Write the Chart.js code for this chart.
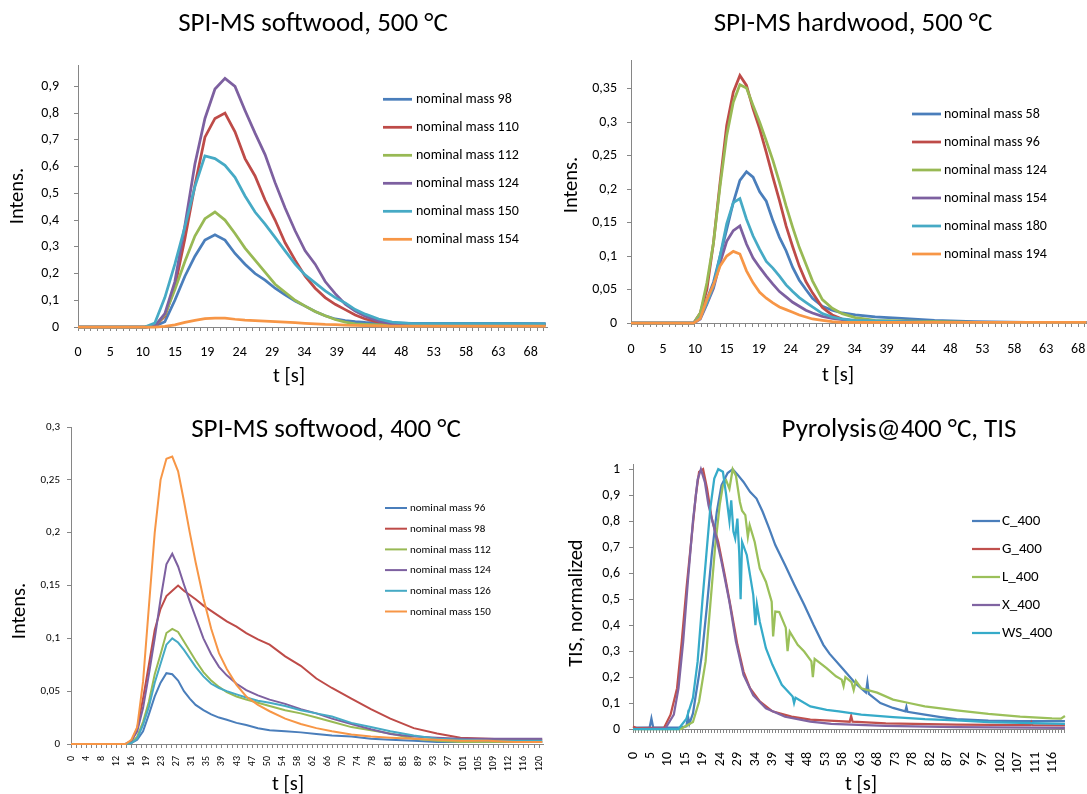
<!DOCTYPE html>
<html>
<head>
<meta charset="utf-8">
<title>SPI-MS pyrolysis profiles</title>
<script src="https://cdn.jsdelivr.net/npm/chart.js@4.4.1/dist/chart.umd.min.js"></script>
<style>
  html, body { margin: 0; padding: 0; background: #fff; }
  body { width: 1087px; height: 794px; overflow: hidden; position: relative; }
  canvas { position: absolute; left: 0; top: 0; }
</style>
</head>
<body>
<canvas id="sw500" width="1100" height="794"></canvas>
<canvas id="hw500" width="1100" height="794"></canvas>
<canvas id="sw400" width="1100" height="794"></canvas>
<canvas id="tis400" width="1100" height="794"></canvas>
<script>
const FONT = 'Carlito, Lato, sans-serif';
Chart.defaults.font.family = FONT;
Chart.defaults.color = '#000';
const AXIS = '#868686';

// ---------- SPI-MS softwood, 500 °C ----------
const sw500Time = [0,5,10,11.5,13,14.5,16,17.5,19,20.5,22,23.5,25,26.5,28,29.5,31,32.5,34,35.5,37,38.5,40,41.5,43,45,47,50,55,60,65,70];
const sw500Names = ['nominal mass 98','nominal mass 110','nominal mass 112','nominal mass 124','nominal mass 150','nominal mass 154'];
const sw500_98  = [0,0,0,0.003,0.02,0.1,0.19,0.265,0.325,0.345,0.325,0.275,0.235,0.2,0.175,0.145,0.12,0.097,0.078,0.058,0.042,0.03,0.024,0.02,0.017,0.015,0.015,0.014,0.014,0.014,0.014,0.013];
const sw500_110 = [0,0,0,0.003,0.04,0.15,0.33,0.53,0.71,0.78,0.8,0.73,0.63,0.565,0.475,0.4,0.315,0.25,0.19,0.145,0.11,0.085,0.065,0.045,0.03,0.018,0.01,0.008,0.008,0.008,0.008,0.008];
const sw500_112 = [0,0,0,0.005,0.045,0.14,0.245,0.34,0.405,0.43,0.4,0.35,0.295,0.25,0.205,0.16,0.13,0.1,0.078,0.058,0.042,0.028,0.018,0.012,0.01,0.008,0.008,0.008,0.008,0.008,0.008,0.008];
const sw500_124 = [0,0,0,0.003,0.05,0.17,0.38,0.61,0.78,0.89,0.93,0.9,0.81,0.725,0.645,0.54,0.445,0.36,0.285,0.235,0.17,0.125,0.085,0.06,0.04,0.022,0.012,0.01,0.01,0.01,0.01,0.01];
const sw500_150 = [0,0,0,0.015,0.11,0.235,0.375,0.525,0.64,0.63,0.605,0.56,0.49,0.43,0.385,0.335,0.285,0.235,0.195,0.165,0.135,0.11,0.09,0.065,0.048,0.03,0.018,0.013,0.013,0.013,0.013,0.012];
const sw500_154 = [0,0,0,0,0.002,0.008,0.017,0.025,0.031,0.033,0.033,0.029,0.026,0.024,0.022,0.02,0.018,0.016,0.014,0.012,0.01,0.009,0.007,0.006,0.005,0.004,0.003,0.003,0.003,0.003,0.003,0.003];
const sw500XLabels = ['0','5','10','15','19','24','29','34','39','44','48','53','58','63','68'];
const sw500YTicks = [0,0.1,0.2,0.3,0.4,0.5,0.6,0.7,0.8,0.9];

// ---------- SPI-MS hardwood, 500 °C ----------
const hw500Time = [0,5,9.5,10.5,11.5,12.5,13.5,14.5,15.5,16.5,17.5,18.5,19.5,20.5,21.5,22.5,23.5,24.5,25.5,26.5,27.5,29,30.5,32,34,37,41,46,52,60,69];
const hw500Names = ['nominal mass 58','nominal mass 96','nominal mass 124','nominal mass 154','nominal mass 180','nominal mass 194'];
const hw500_58  = [0,0,0,0.008,0.035,0.061,0.1,0.14,0.18,0.213,0.226,0.218,0.196,0.182,0.153,0.128,0.108,0.083,0.064,0.05,0.037,0.025,0.019,0.015,0.012,0.009,0.007,0.004,0.002,0.001,0.001];
const hw500_96  = [0,0,0,0.015,0.05,0.12,0.21,0.295,0.345,0.37,0.355,0.32,0.29,0.255,0.218,0.183,0.145,0.114,0.085,0.062,0.045,0.023,0.012,0.006,0.003,0.002,0.002,0.001,0.001,0.001,0.001];
const hw500_124 = [0,0,0,0.015,0.06,0.12,0.205,0.28,0.33,0.356,0.351,0.325,0.3,0.272,0.243,0.21,0.175,0.143,0.113,0.088,0.063,0.035,0.022,0.014,0.008,0.004,0.003,0.002,0.001,0.001,0.001];
const hw500_154 = [0,0,0,0.006,0.028,0.052,0.09,0.122,0.138,0.145,0.118,0.097,0.083,0.07,0.058,0.047,0.039,0.031,0.025,0.019,0.015,0.01,0.007,0.005,0.003,0.002,0.002,0.001,0.001,0.001,0.001];
const hw500_180 = [0,0,0,0.008,0.03,0.055,0.1,0.148,0.18,0.186,0.155,0.13,0.11,0.092,0.082,0.07,0.057,0.047,0.038,0.031,0.024,0.014,0.009,0.006,0.004,0.003,0.002,0.001,0.001,0.001,0.001];
const hw500_194 = [0,0,0,0.007,0.035,0.057,0.085,0.1,0.107,0.103,0.078,0.06,0.046,0.037,0.03,0.024,0.02,0.016,0.012,0.009,0.006,0.004,0.002,0.001,0.001,0.001,0.001,0.001,0.001,0.001,0.001];
const hw500XLabels = ['0','5','10','15','19','24','29','34','39','44','48','53','58','63','68'];
const hw500YTicks = [0,0.05,0.1,0.15,0.2,0.25,0.3,0.35];

// ---------- SPI-MS softwood, 400 °C ----------
const sw400Time = [0,10,14,15.5,17,18.5,20,21.5,23,24.5,26,27.5,29,30.5,32,34,36,38,40,42.5,45,48,51,55,59,63,67,72,77,82,88,94,100,107,114,121];
const sw400Names = ['nominal mass 96','nominal mass 98','nominal mass 112','nominal mass 124','nominal mass 126','nominal mass 150'];
const sw400_96  = [0,0,0,0.001,0.004,0.012,0.028,0.045,0.058,0.067,0.066,0.06,0.05,0.043,0.037,0.032,0.028,0.025,0.023,0.02,0.018,0.015,0.013,0.012,0.011,0.0095,0.008,0.007,0.005,0.004,0.003,0.002,0.002,0.002,0.002,0.002];
const sw400_98  = [0,0,0,0.002,0.015,0.043,0.075,0.108,0.128,0.14,0.145,0.15,0.145,0.141,0.137,0.131,0.126,0.121,0.116,0.111,0.105,0.099,0.094,0.083,0.074,0.062,0.053,0.043,0.033,0.024,0.015,0.01,0.006,0.005,0.004,0.004];
const sw400_112 = [0,0,0,0.001,0.007,0.021,0.04,0.066,0.085,0.105,0.109,0.106,0.097,0.088,0.079,0.068,0.06,0.054,0.049,0.045,0.042,0.039,0.036,0.032,0.029,0.025,0.021,0.016,0.013,0.01,0.005,0.003,0.002,0.002,0.002,0.002];
const sw400_124 = [0,0,0,0.003,0.012,0.034,0.066,0.1,0.137,0.17,0.18,0.168,0.151,0.135,0.12,0.1,0.085,0.073,0.065,0.057,0.051,0.046,0.042,0.038,0.033,0.029,0.024,0.019,0.014,0.0095,0.007,0.006,0.005,0.005,0.005,0.005];
const sw400_126 = [0,0,0,0.001,0.005,0.018,0.035,0.058,0.076,0.094,0.1,0.096,0.089,0.081,0.073,0.064,0.057,0.053,0.05,0.047,0.044,0.041,0.039,0.036,0.032,0.029,0.026,0.02,0.016,0.012,0.008,0.005,0.004,0.003,0.003,0.003];
const sw400_150 = [0,0,0,0.004,0.016,0.059,0.13,0.2,0.25,0.27,0.272,0.258,0.23,0.2,0.172,0.138,0.109,0.086,0.071,0.056,0.045,0.037,0.031,0.024,0.019,0.015,0.012,0.009,0.007,0.006,0.005,0.004,0.003,0.003,0.002,0.002];
const sw400XLabels = ['0','4','8','12','16','19','23','27','31','35','39','43','47','50','54','58','62','66','70','74','78','81','85','89','93','97','101','105','109','112','116','120'];
const sw400YTicks = [0,0.05,0.1,0.15,0.2,0.25,0.3];

// ---------- Pyrolysis@400 °C, TIS ----------
const tisNames = ['C_400','G_400','L_400','X_400','WS_400'];
const tisC_t = [0,4.6,5.1,5.6,13,14.8,15.2,15.6,16.6,17.4,18.3,19.2,20.5,21.8,23.2,24.5,26.2,27.6,28.9,30.6,32.4,34.2,35.9,37.7,39.4,42.1,44.7,47.4,50,52.7,54.4,57.9,61.5,64.5,64.9,65.3,68.5,72,75.4,75.7,76,80.8,85.2,89.6,98.4,107.2,119.6];
const tisC_v = [0.005,0.005,0.04,0.005,0.005,0.01,0.05,0.02,0.06,0.132,0.21,0.3,0.478,0.67,0.836,0.938,0.985,1,0.98,0.951,0.913,0.887,0.836,0.772,0.708,0.631,0.554,0.478,0.4,0.324,0.29,0.235,0.177,0.14,0.18,0.135,0.1,0.081,0.068,0.085,0.066,0.055,0.046,0.038,0.032,0.03,0.03];
const tisG_t = [0,1,8.6,10.4,12.2,13.5,14.8,16.1,17.4,18.3,19.4,20.5,21.8,23.6,25.4,27.1,28.9,30.6,32.4,35.1,38.6,43.9,49.1,57,60,60.4,60.8,70,89.6,110,110.3,110.6,119.6];
const tisG_v = [0.01,0.003,0.005,0.055,0.157,0.337,0.54,0.72,0.9,0.99,1,0.926,0.81,0.72,0.593,0.465,0.324,0.221,0.157,0.106,0.068,0.048,0.036,0.03,0.028,0.05,0.028,0.022,0.0165,0.015,0.025,0.015,0.014];
const tisL_t = [0,13.2,16.6,18.3,20.1,21.4,22.7,24,24.9,25.8,26.7,27.6,28.5,29.6,30.2,31.1,31.8,32.3,33.7,35.1,36.8,38.4,38.8,39.4,40.5,42.3,42.8,43.4,45.6,47.4,49.4,49.8,50.3,53.6,56.2,57.8,58.3,58.8,60.5,61.1,61.7,63.2,67.6,72,76.4,80.8,89.6,98.4,107.2,116,118.5,119.6];
const tisL_v = [0,0,0.027,0.106,0.26,0.478,0.695,0.862,0.938,0.957,0.925,1,0.975,0.874,0.84,0.823,0.74,0.785,0.72,0.618,0.567,0.49,0.356,0.452,0.45,0.39,0.3,0.375,0.324,0.298,0.26,0.2,0.27,0.234,0.203,0.19,0.165,0.2,0.18,0.15,0.185,0.157,0.14,0.113,0.1,0.087,0.072,0.058,0.048,0.041,0.04,0.05];
const tisX_t = [0,9,11.3,12.6,13.9,15.2,16.6,17.9,18.8,19.9,20.9,22.7,24.5,26.7,28.5,30.6,33.3,36.8,42.1,49.1,54.9,70,89.6,119.6];
const tisX_v = [0,0.003,0.055,0.157,0.337,0.57,0.8,0.96,1,0.95,0.862,0.76,0.645,0.49,0.337,0.208,0.13,0.08,0.047,0.028,0.02,0.012,0.007,0.004];
const tisWS_t = [0,12.6,14.8,16.6,17.9,19.2,20.3,21.4,22.5,23.6,24.9,25.8,26.7,27.2,27.8,28.3,28.9,29.4,29.8,30.2,31.5,33.3,33.9,34.3,35.1,36.8,38.6,41.2,44.2,44.6,45,49.1,53.6,57,63.2,72,80.8,89.6,98.4,119.6];
const tisWS_v = [0,0,0.04,0.12,0.26,0.49,0.67,0.849,0.964,1,0.99,0.9,0.8,0.88,0.76,0.734,0.81,0.68,0.5,0.72,0.67,0.516,0.4,0.48,0.413,0.311,0.247,0.17,0.125,0.1,0.12,0.087,0.074,0.068,0.055,0.046,0.038,0.033,0.026,0.02];
const tisXLabels = ['0','5','10','15','19','24','29','34','39','44','48','53','58','63','68','73','78','82','87','92','97','102','107','111','116'];
const tisYTicks = [0,0.1,0.2,0.3,0.4,0.5,0.6,0.7,0.8,0.9,1];

const excelColors = ['#4A7EBB','#BE4B48','#98B954','#7D60A0','#46AAC5','#F79646'];
const tisColors = ['#4A7EBB','#C0504D','#9BC05A','#8064A2','#36ABC9'];

// draws titles, axis titles and the in-plot legend at fixed page positions
const deco = {
  id: 'deco',
  afterDraw(chart, args, o) {
    const ctx = chart.ctx;
    ctx.save();
    ctx.fillStyle = '#000';
    ctx.textBaseline = 'middle';
    ctx.textAlign = 'center';
    ctx.font = `${o.titleSize}px ${FONT}`;
    ctx.fillText(o.title[0], o.title[1], o.title[2]);
    ctx.font = `${o.axisSize}px ${FONT}`;
    ctx.fillText(o.xTitle[0], o.xTitle[1], o.xTitle[2]);
    ctx.save();
    ctx.translate(o.yTitle[1], o.yTitle[2]);
    ctx.rotate(-Math.PI / 2);
    ctx.fillText(o.yTitle[0], 0, 0);
    ctx.restore();
    // legend
    ctx.textAlign = 'left';
    ctx.font = `${o.legSize}px ${FONT}`;
    chart.data.datasets.forEach((ds, i) => {
      const y = o.leg.y + i * o.leg.dy;
      ctx.strokeStyle = ds.borderColor;
      ctx.lineWidth = ds.borderWidth;
      ctx.beginPath();
      ctx.moveTo(o.leg.x, y);
      ctx.lineTo(o.leg.x + o.leg.len, y);
      ctx.stroke();
      ctx.fillText(ds.label, o.leg.tx, y + 0.5);
    });
    ctx.restore();
  }
};

const CANVAS_W = 1100;

function panel(id, p) {
  const datasets = p.series.map((s, i) => ({
    label: p.names[i],
    data: s[0].map((t, k) => ({ x: t, y: s[1][k] })),
    borderColor: p.colors[i],
    borderWidth: p.lw,
    pointRadius: 0,
    pointHoverRadius: 0,
    tension: 0,
    fill: false,
    clip: 6,
    order: -i
  }));
  const tickStep = p.labelStep / p.minor;
  new Chart(document.getElementById(id), {
    type: 'line',
    data: { datasets },
    plugins: [deco],
    options: {
      responsive: false,
      animation: false,
      events: [],
      layout: { padding: { left: 0, top: p.area.t, right: CANVAS_W - p.area.r, bottom: 0 } },
      plugins: {
        legend: { display: false },
        title: { display: false },
        tooltip: { enabled: false },
        deco: p.deco
      },
      scales: {
        x: {
          type: 'linear',
          min: 0,
          max: p.xMax,
          afterBuildTicks: s => {
            const out = [];
            for (let i = 0; i * tickStep <= p.xMax + 1e-9; i++) out.push({ value: i * tickStep });
            s.ticks = out;
          },
          afterFit: s => { s.height = 794 - p.area.b; },
          ticks: {
            autoSkip: false,
            maxRotation: p.rot,
            minRotation: p.rot,
            padding: p.xPad,
            font: { size: p.xTickSize },
            color: '#000',
            callback: (v, i) => (i % p.minor === 0 ? (p.xLabels[i / p.minor] ?? '') : '')
          },
          grid: { drawOnChartArea: false, drawTicks: true, tickLength: 4, color: AXIS, lineWidth: 1 },
          border: { color: AXIS, width: 1 }
        },
        y: {
          type: 'linear',
          min: 0,
          max: p.yMax,
          afterBuildTicks: s => { s.ticks = p.yTicks.map(v => ({ value: v })); },
          afterFit: s => { s.width = p.area.l; },
          ticks: {
            padding: p.yPad,
            font: { size: p.yTickSize },
            color: '#000',
            callback: v => String(v).replace('.', ',')
          },
          grid: { drawOnChartArea: false, drawTicks: true, tickLength: 4, color: AXIS, lineWidth: 1 },
          border: { color: AXIS, width: 1 }
        }
      }
    }
  });
}

panel('sw500', {
  series: [sw500_98, sw500_110, sw500_112, sw500_124, sw500_150, sw500_154].map(v => [sw500Time, v]),
  names: sw500Names, colors: excelColors, lw: 2.75,
  area: { l: 78, r: 547, t: 65, b: 327 },
  xMax: 70.2, yMax: 0.98, labelStep: 4.84, minor: 5, rot: 0,
  xLabels: sw500XLabels, yTicks: sw500YTicks,
  xPad: 13, yPad: 15, xTickSize: 14, yTickSize: 14,
  deco: {
    title: ['SPI-MS softwood, 500 °C', 313, 24], titleSize: 27,
    xTitle: ['t [s]', 289, 377], yTitle: ['Intens.', 18, 196], axisSize: 20.5,
    leg: { x: 383, len: 29, tx: 416, y: 99.3, dy: 28 }, legSize: 14
  }
});

panel('hw500', {
  series: [hw500_58, hw500_96, hw500_124, hw500_154, hw500_180, hw500_194].map(v => [hw500Time, v]),
  names: hw500Names, colors: excelColors, lw: 2.75,
  area: { l: 631, r: 1087, t: 60, b: 323 },
  xMax: 69.1, yMax: 0.393, labelStep: 4.84, minor: 5, rot: 0,
  xLabels: hw500XLabels, yTicks: hw500YTicks,
  xPad: 14, yPad: 10, xTickSize: 14, yTickSize: 14,
  deco: {
    title: ['SPI-MS hardwood, 500 °C', 853, 24], titleSize: 27,
    xTitle: ['t [s]', 838, 376], yTitle: ['Intens.', 572, 185], axisSize: 20.5,
    leg: { x: 912, len: 29, tx: 944, y: 114, dy: 28 }, legSize: 14
  }
});

panel('sw400', {
  series: [sw400_96, sw400_98, sw400_112, sw400_124, sw400_126, sw400_150].map(v => [sw400Time, v]),
  names: sw400Names, colors: excelColors, lw: 2,
  area: { l: 71, r: 543, t: 427, b: 744 },
  xMax: 121.2, yMax: 0.3, labelStep: 3.877, minor: 3, rot: 90,
  xLabels: sw400XLabels, yTicks: sw400YTicks,
  xPad: 8, yPad: 7, xTickSize: 10, yTickSize: 11,
  deco: {
    title: ['SPI-MS softwood, 400 °C', 326, 430], titleSize: 27,
    xTitle: ['t [s]', 288, 785], yTitle: ['Intens.', 20, 611], axisSize: 20.5,
    leg: { x: 385, len: 22, tx: 410, y: 508, dy: 20.7 }, legSize: 11
  }
});

panel('tis400', {
  series: [[tisC_t, tisC_v], [tisG_t, tisG_v], [tisL_t, tisL_v], [tisX_t, tisX_v], [tisWS_t, tisWS_v]],
  names: tisNames, colors: tisColors, lw: 2.25,
  area: { l: 633, r: 1087, t: 464, b: 729 },
  xMax: 119.6, yMax: 1.02, labelStep: 4.84, minor: 6, rot: 90,
  xLabels: tisXLabels, yTicks: tisYTicks,
  xPad: 19, yPad: 9, xTickSize: 14, yTickSize: 14,
  deco: {
    title: ['Pyrolysis@400 °C, TIS', 899, 430], titleSize: 27,
    xTitle: ['t [s]', 861, 785], yTitle: ['TIS, normalized', 577, 603], axisSize: 20.5,
    leg: { x: 972, len: 28, tx: 1002, y: 521, dy: 28 }, legSize: 15
  }
});
</script>
</body>
</html>
